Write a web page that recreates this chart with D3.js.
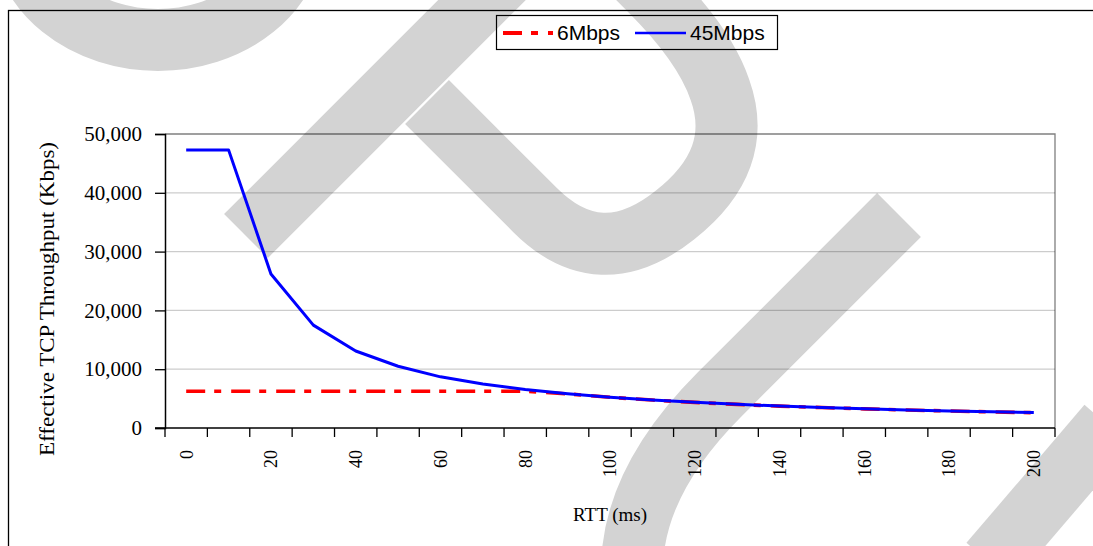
<!DOCTYPE html>
<html>
<head>
<meta charset="utf-8">
<script src="https://cdn.jsdelivr.net/npm/d3@7"></script>
<style>
  html, body { margin: 0; padding: 0; background: #ffffff; }
  svg { display: block; }
</style>
</head>
<body>
<svg id="chart" width="1093" height="546"></svg>
<script>
// ---- data ----
const categories = [0, 10, 20, 30, 40, 50, 60, 70, 80, 90, 100, 110, 120, 130, 140, 150, 160, 170, 180, 190, 200];
const xTickLabels = [0, 20, 40, 60, 80, 100, 120, 140, 160, 180, 200];
const series45 = [47300, 47300, 26200, 17500, 13100, 10500, 8700, 7500, 6550, 5830, 5240, 4770, 4370, 4030, 3740, 3500, 3280, 3080, 2910, 2760, 2620];
const series6 = [6240, 6240, 6240, 6240, 6240, 6240, 6240, 6240, 6240, 5810, 5220, 4750, 4350, 4010, 3720, 3480, 3260, 3060, 2890, 2740, 2600];
const yTicks = [0, 10000, 20000, 30000, 40000, 50000];
const seriesNames = ["6Mbps", "45Mbps"];
const xTitle = "RTT (ms)";
const yTitle = "Effective TCP Throughput (Kbps)";

// ---- layout ----
const W = 1093, H = 546;
const plot = { left: 165, right: 1055, top: 134, bottom: 428 };
const serif = "'Liberation Serif', 'Times New Roman', serif";
const sans = "'Liberation Sans', Arial, sans-serif";

const svg = d3.select("#chart");

// ---- background watermark (decorative, not data) ----
const wm = svg.append("g").attr("fill", "none").attr("stroke", "#d3d3d3").attr("stroke-width", 62).attr("stroke-linecap", "butt");
[
  "M22,-70 A136,110 0 0,0 294,-70",
  "M246,236 L510,-28",
  "M427,102 L535,210 Q600,275 675,215 Q745,160 720,90 Q705,45 650,-10 L630,-30",
  "M899,215 L720,394 Q632,482 632,570",
  "M1108,425 L990,563"
].forEach(d => wm.append("path").attr("d", d));

// ---- outer frame ----
svg.append("rect")
  .attr("x", 8.5).attr("y", 10.5).attr("width", W + 20).attr("height", H + 20)
  .attr("fill", "none").attr("stroke", "#000").attr("stroke-width", 1.3);

// ---- scales ----
const x = d3.scaleBand().domain(categories).range([plot.left, plot.right]).padding(0);
const y = d3.scaleLinear().domain([0, 50000]).range([plot.bottom, plot.top]);
const cx = c => x(c) + x.bandwidth() / 2;

// ---- gridlines ----
svg.append("g").selectAll("line")
  .data(yTicks.filter(v => v > 0 && v < 50000))
  .join("line")
  .attr("x1", plot.left).attr("x2", plot.right)
  .attr("y1", d => y(d)).attr("y2", d => y(d))
  .attr("stroke", "rgba(0,0,0,0.2)").attr("stroke-width", 1.3);

// plot border (top and right) in grey
svg.append("path")
  .attr("d", `M${plot.left},${y(50000)} H${plot.right} V${plot.bottom}`)
  .attr("fill", "none").attr("stroke", "rgba(0,0,0,0.5)").attr("stroke-width", 1.3);

// ---- y axis ----
const yAxis = svg.append("g")
  .attr("transform", `translate(${plot.left},0)`)
  .call(d3.axisLeft(y).tickValues(yTicks).tickFormat(d3.format(",")).tickSize(10).tickPadding(13));
yAxis.select(".domain").attr("stroke", "#000").attr("stroke-width", 1.5);
yAxis.selectAll(".tick line").attr("stroke", "#000").attr("stroke-width", 1.3);
yAxis.selectAll(".tick text")
  .attr("font-family", serif).attr("font-size", 21).attr("fill", "#000");

// ---- x axis ----
svg.append("line")
  .attr("x1", plot.left - 10).attr("x2", plot.right)
  .attr("y1", plot.bottom).attr("y2", plot.bottom)
  .attr("stroke", "#000").attr("stroke-width", 1.5);
const boundaries = categories.map(c => x(c)).concat([x.range()[1]]);
svg.append("g").selectAll("line")
  .data(boundaries)
  .join("line")
  .attr("x1", d => d).attr("x2", d => d)
  .attr("y1", plot.bottom).attr("y2", plot.bottom + 9)
  .attr("stroke", "#000").attr("stroke-width", 1.3);

svg.append("g").selectAll("text")
  .data(xTickLabels)
  .join("text")
  .attr("transform", d => `translate(${cx(d)},${plot.bottom + 22}) rotate(-90)`)
  .attr("text-anchor", "end")
  .attr("dy", "0.35em")
  .attr("font-family", serif).attr("font-size", 18).attr("fill", "#000")
  .text(d => d);

// ---- axis titles ----
svg.append("text")
  .attr("x", (plot.left + plot.right) / 2).attr("y", 521)
  .attr("text-anchor", "middle")
  .attr("font-family", serif).attr("font-size", 19).attr("fill", "#000")
  .text(xTitle);

svg.append("text")
  .attr("transform", `translate(47,299) scale(0.88,1) rotate(-90)`)
  .attr("text-anchor", "middle")
  .attr("dy", "0.35em")
  .attr("font-family", serif).attr("font-size", 23).attr("fill", "#000")
  .text(yTitle);

// ---- lines ----
const line = d3.line().x((d, i) => cx(categories[i])).y(d => y(d));
const dash6 = "19,9,7,10";

svg.append("path")
  .datum(series6)
  .attr("d", line)
  .attr("fill", "none").attr("stroke", "#ff0000").attr("stroke-width", 3.6)
  .attr("stroke-dasharray", dash6);

svg.append("path")
  .datum(series45)
  .attr("d", line)
  .attr("fill", "none").attr("stroke", "#0000ff").attr("stroke-width", 3)
  .attr("stroke-linejoin", "round");

// ---- legend ----
const lg = svg.append("g");
lg.append("rect")
  .attr("x", 496.5).attr("y", 15.5).attr("width", 281).attr("height", 34)
  .attr("fill", "none").attr("stroke", "#000").attr("stroke-width", 1.2);

lg.append("line")
  .attr("x1", 503).attr("x2", 553).attr("y1", 33).attr("y2", 33)
  .attr("stroke", "#ff0000").attr("stroke-width", 4).attr("stroke-dasharray", dash6);
lg.append("text")
  .attr("x", 557).attr("y", 40)
  .attr("font-family", sans).attr("font-size", 21).attr("fill", "#000")
  .text(seriesNames[0]);

lg.append("line")
  .attr("x1", 635).attr("x2", 686).attr("y1", 33).attr("y2", 33)
  .attr("stroke", "#0000ff").attr("stroke-width", 2.7);
lg.append("text")
  .attr("x", 690).attr("y", 40)
  .attr("font-family", sans).attr("font-size", 21).attr("fill", "#000")
  .text(seriesNames[1]);
</script>
</body>
</html>
